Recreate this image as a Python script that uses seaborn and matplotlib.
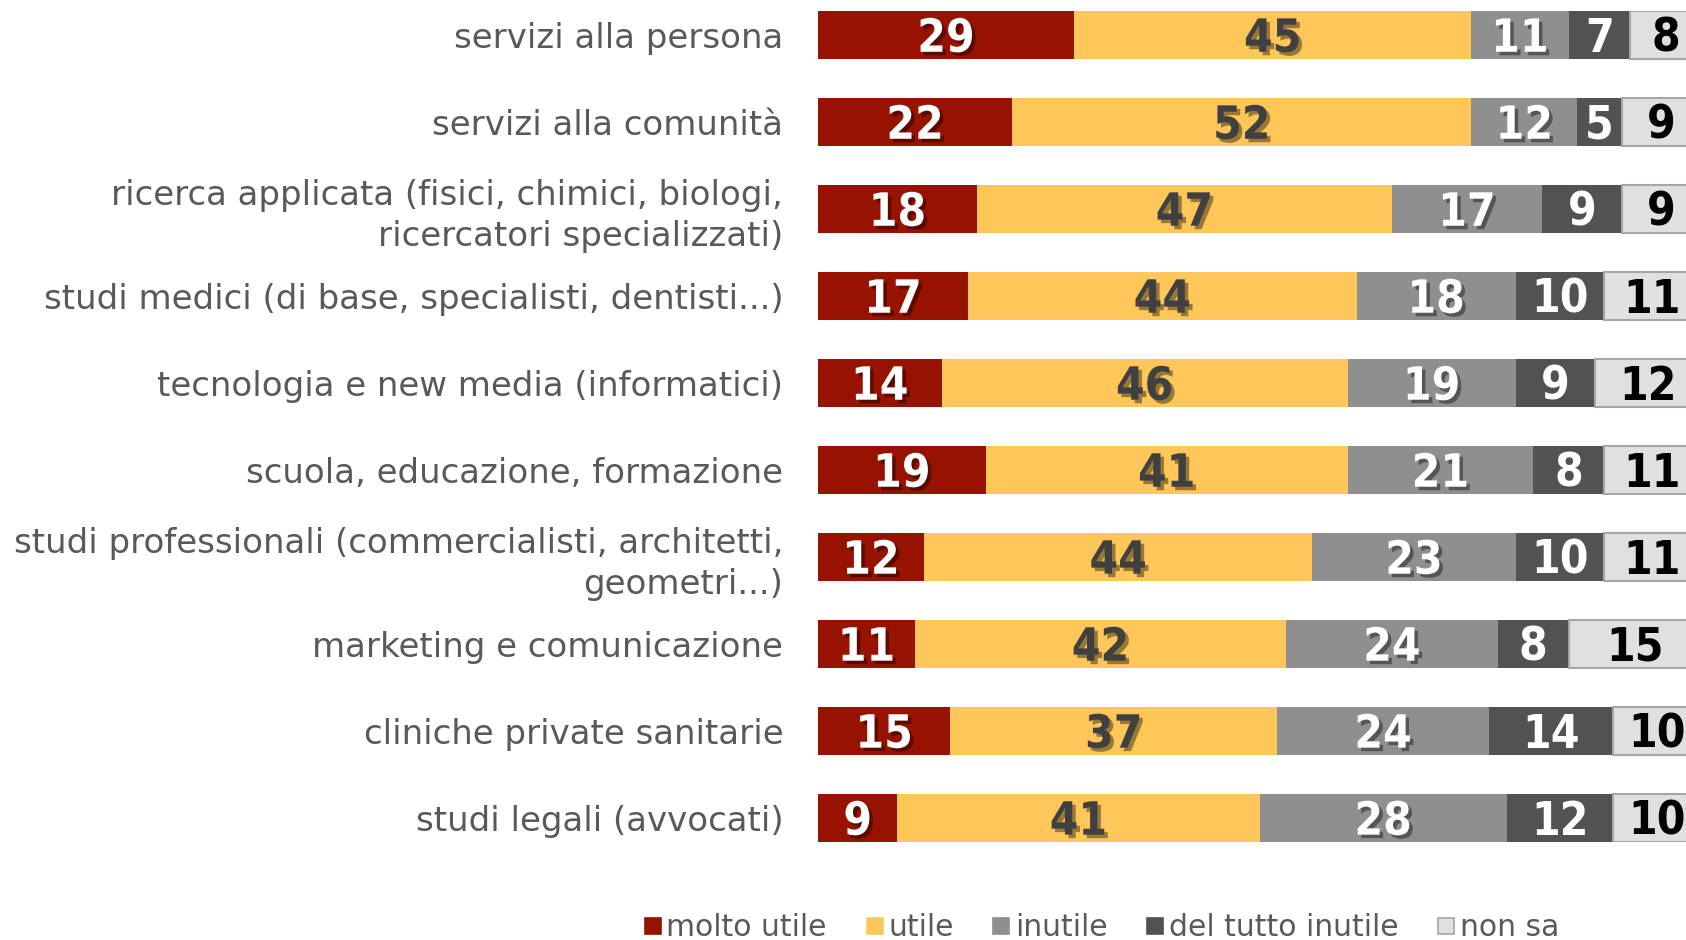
import matplotlib
matplotlib.use("Agg")
import matplotlib.pyplot as plt
import matplotlib.patheffects as pe
from matplotlib.lines import Line2D
import seaborn as sns
import numpy as np

categories = [
    "servizi alla persona",
    "servizi alla comunità",
    "ricerca applicata (fisici, chimici, biologi,\nricercatori specializzati)",
    "studi medici (di base, specialisti, dentisti...)",
    "tecnologia e new media (informatici)",
    "scuola, educazione, formazione",
    "studi professionali (commercialisti, architetti,\ngeometri...)",
    "marketing e comunicazione",
    "cliniche private sanitarie",
    "studi legali (avvocati)",
]
series_names = ["molto utile", "utile", "inutile", "del tutto inutile", "non sa"]
molto_utile = [29, 22, 18, 17, 14, 19, 12, 11, 15, 9]
utile = [45, 52, 47, 44, 46, 41, 44, 42, 37, 41]
inutile = [11, 12, 17, 18, 19, 21, 23, 24, 24, 28]
del_tutto_inutile = [7, 5, 9, 10, 9, 8, 10, 8, 14, 12]
non_sa = [8, 9, 9, 11, 12, 11, 11, 15, 10, 10]

series = [molto_utile, utile, inutile, del_tutto_inutile, non_sa]
colors = ["#981200", "#FFC759", "#8F8F8F", "#525252", "#E0E0E0"]
edgecols = ["none", "none", "none", "none", "#A6A6A6"]
txt_colors = ["white", "#404040", "white", "white", "black"]
shadow = [True, True, True, False, False]

sns.set_theme(style="white")
plt.rcParams["font.family"] = ["DejaVu Sans"]

W, H = 1686, 940
fig = plt.figure(figsize=(W / 100, H / 100), dpi=100)
ax = fig.add_axes([818 / W, 98 / H, 1 - 818 / W, (842 - 10.75) / H])

bar_h = 0.556
left = np.zeros(len(categories))
for vals, name, c, ec in zip(series, series_names, colors, edgecols):
    sns.barplot(x=vals, y=categories, orient="h", color=c, width=bar_h,
                left=left.copy(), edgecolor=ec, linewidth=1.5 if ec != "none" else 0,
                saturation=1, ax=ax, errorbar=None)
    left += np.array(vals)

# value labels
left = np.zeros(len(categories))
for k, vals in enumerate(series):
    for i, v in enumerate(vals):
        t = ax.text(left[i] + v / 2, i + 0.05, str(v), ha="center", va="center",
                    fontsize=33, fontweight="bold", color=txt_colors[k],
                    family="DejaVu Sans", fontstretch="condensed")
        if shadow[k]:
            t.set_path_effects([pe.SimplePatchShadow(offset=(2.5, -2.5), alpha=0.4, shadow_rgbFace="black"),
                                pe.Normal()])
        left[i] += v

ax.set_xlim(0, 98.3)
ax.set_ylim(len(categories) - 1 + bar_h / 2, -bar_h / 2)
ax.set_xticks([])
ax.set_xlabel("")
ax.set_ylabel("")
for s in ax.spines.values():
    s.set_visible(False)
ax.tick_params(axis="y", length=0, pad=25, labelsize=24.5, labelcolor="#595959")
for lab in ax.get_yticklabels():
    lab.set_linespacing(1.3)

handles = [Line2D([0], [0], marker="s", linestyle="none", markersize=12,
                  markerfacecolor=c, markeredgecolor=(ec if ec != "none" else c), markeredgewidth=1.2)
           for c, ec in zip(colors, edgecols)]
fig.legend(handles, series_names, loc="center", bbox_to_anchor=(1100 / W, 1 - 928 / H),
           ncol=5, frameon=False, fontsize=21.5, labelcolor="#595959",
           handletextpad=0.05, columnspacing=1.2, handlelength=0.8)

fig.savefig("out.png", dpi=100)
